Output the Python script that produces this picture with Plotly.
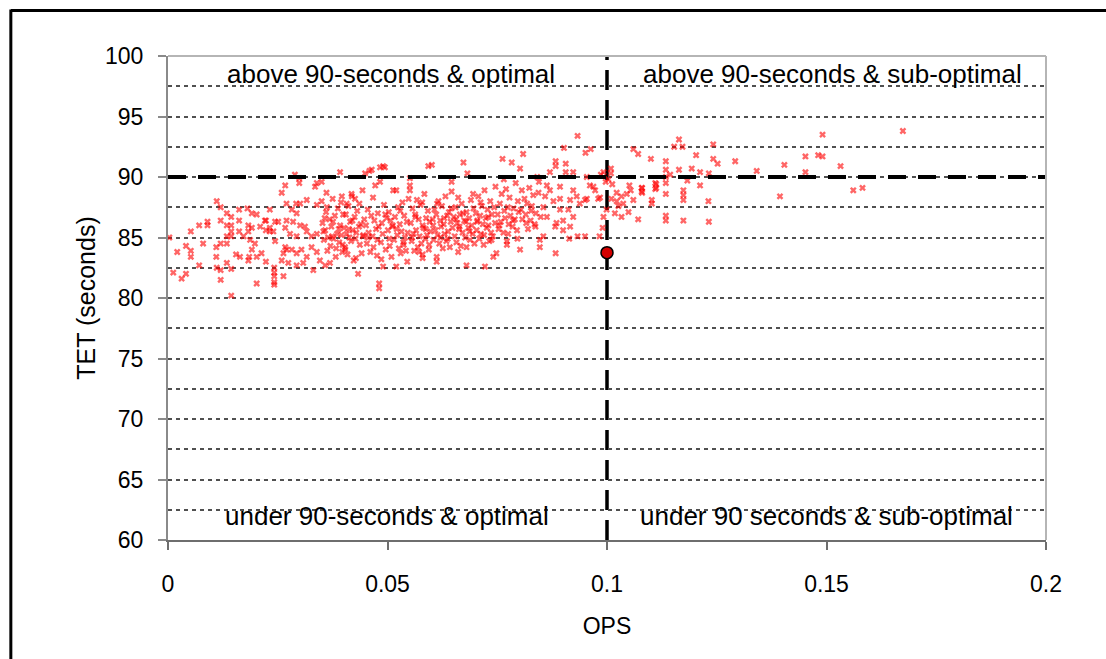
import plotly.graph_objects as go

# ---------------- data ----------------
ops = [
    # x < 0.025
    0.0003, 0.0012, 0.0031, 0.0041, 0.0021, 0.0041, 0.0052, 0.0052, 0.0052, 0.0071, 0.008, 0.0071,
    0.009, 0.009, 0.0111, 0.012, 0.012, 0.011, 0.011, 0.0111, 0.012, 0.012,
    0.0134, 0.0144, 0.0134, 0.0144, 0.0144, 0.0134, 0.0144, 0.0134, 0.012, 0.0162, 0.0162, 0.0162,
    0.0155, 0.0164, 0.0144, 0.0134, 0.0144, 0.0172, 0.0181, 0.0191, 0.0202, 0.0183, 0.0191, 0.0183,
    0.0187, 0.0198, 0.0191, 0.0185, 0.0183, 0.0202, 0.0213, 0.0223, 0.0202, 0.021, 0.0223, 0.0232,
    0.0223, 0.0232, 0.0221, 0.0232, 0.0244, 0.0251, 0.0242, 0.0242, 0.0242, 0.0242, 0.0263, 0.0242,
    0.024, 0.0244,
    # 0.025 - 0.035
    0.0259, 0.027, 0.0282, 0.0292, 0.0293, 0.027, 0.0285, 0.0301, 0.0312, 0.0267, 0.0278, 0.0293,
    0.0316, 0.0327, 0.0339, 0.0267, 0.027, 0.0263, 0.0282, 0.0293, 0.0304, 0.0316, 0.0327, 0.0339,
    0.0346, 0.0358, 0.0293, 0.0308, 0.0331, 0.0274, 0.0259, 0.0301, 0.0316, 0.0339, 0.035, 0.0362,
    0.0339, 0.035, 0.0335, 0.0392, 0.0396, 0.0407, 0.0418, 0.0426, 0.0289, 0.0299, 0.0299, 0.0267,
    # 0.035 - 0.040
    0.0352, 0.0355, 0.0358, 0.036, 0.0363, 0.0365, 0.0368, 0.037, 0.0372, 0.0375, 0.0377, 0.038,
    0.0382, 0.0385, 0.0387, 0.039, 0.0392, 0.0395, 0.0397, 0.0399, 0.0354, 0.0361, 0.0369, 0.0376,
    0.0383, 0.0389, 0.0394, 0.0398, 0.0357, 0.0374,
    # 0.040 - 0.045
    0.0401, 0.0403, 0.0405, 0.0407, 0.0409, 0.0411, 0.0413, 0.0415, 0.0417, 0.0419, 0.0421, 0.0423,
    0.0425, 0.0427, 0.0429, 0.0431, 0.0433, 0.0435, 0.0437, 0.0439, 0.0441, 0.0443, 0.0445, 0.0447,
    0.0449, 0.0404, 0.0412, 0.042, 0.0428, 0.0436, 0.0444,
    # 0.045 - 0.050
    0.0451, 0.0453, 0.0455, 0.0457, 0.0459, 0.0461, 0.0463, 0.0464, 0.0466, 0.0468, 0.047, 0.0472,
    0.0474, 0.0476, 0.0478, 0.048, 0.0481, 0.0481, 0.0483, 0.0483, 0.0485, 0.0487, 0.0489, 0.049,
    0.049, 0.0492, 0.0494, 0.0496, 0.0498, 0.0456, 0.0467, 0.0477, 0.0486, 0.0495,
    # 0.050 - 0.055
    0.0501, 0.0503, 0.0505, 0.0507, 0.0509, 0.0511, 0.0513, 0.0515, 0.0517, 0.052, 0.052, 0.0522,
    0.0524, 0.0526, 0.0528, 0.053, 0.0532, 0.0534, 0.0536, 0.0538, 0.054, 0.0542, 0.0544, 0.0546,
    0.0548, 0.0551, 0.0551, 0.0551, 0.0504, 0.0512, 0.0521, 0.0529, 0.0537, 0.0545,
    # 0.055 - 0.060
    0.0553, 0.0555, 0.0557, 0.0559, 0.0561, 0.0563, 0.0565, 0.0567, 0.0569, 0.0571, 0.0573, 0.0575,
    0.0577, 0.058, 0.058, 0.058, 0.0582, 0.0584, 0.0586, 0.0588, 0.059, 0.0592, 0.0593, 0.0594,
    0.0596, 0.0598, 0.0556, 0.0564, 0.0572, 0.0579, 0.0587, 0.0595,
    # 0.060 - 0.065
    0.0601, 0.0603, 0.0605, 0.0607, 0.0609, 0.0611, 0.0612, 0.0612, 0.0614, 0.0616, 0.0618, 0.062,
    0.0622, 0.0624, 0.0626, 0.0628, 0.063, 0.0632, 0.0634, 0.0636, 0.0638, 0.064, 0.0642, 0.0644,
    0.0646, 0.0646, 0.0648, 0.0604, 0.0613, 0.0621, 0.0629, 0.0637, 0.0645,
    # 0.065 - 0.070
    0.0651, 0.0653, 0.0655, 0.0657, 0.0659, 0.0661, 0.0661, 0.0663, 0.0665, 0.0667, 0.0669, 0.0671,
    0.0673, 0.0675, 0.0677, 0.068, 0.068, 0.068, 0.0682, 0.0684, 0.0686, 0.0688, 0.069, 0.0692,
    0.0694, 0.0696, 0.0698, 0.0656, 0.0664, 0.0672, 0.0679, 0.0687, 0.0695,
    # 0.070 - 0.075
    0.0701, 0.0703, 0.0705, 0.0707, 0.0709, 0.0711, 0.0713, 0.0715, 0.0717, 0.0719, 0.0721, 0.0722,
    0.0724, 0.0726, 0.0728, 0.073, 0.0732, 0.0734, 0.0736, 0.0738, 0.074, 0.0741, 0.0743, 0.0745,
    0.0748, 0.0704, 0.0712, 0.072, 0.0729, 0.0737, 0.0746,
    # 0.075 - 0.080
    0.0751, 0.0753, 0.0756, 0.0758, 0.076, 0.0762, 0.0764, 0.0766, 0.0768, 0.077, 0.0772, 0.0772,
    0.0774, 0.0776, 0.0778, 0.078, 0.0783, 0.0785, 0.0787, 0.079, 0.0792, 0.0795, 0.0797, 0.0799,
    0.0755, 0.0765, 0.0775, 0.0786, 0.0796,
    # 0.080 - 0.085
    0.0802, 0.0802, 0.0804, 0.0807, 0.0809, 0.0812, 0.0815, 0.0818, 0.082, 0.0823, 0.0826, 0.0829,
    0.0832, 0.0835, 0.0838, 0.0841, 0.0844, 0.0847, 0.0847, 0.0849, 0.0806, 0.0816, 0.0827, 0.0837,
    0.0845,
    # 0.085 - 0.100
    0.0933, 0.0902, 0.0951, 0.0963, 0.0883, 0.0883, 0.0906, 0.0906, 0.0923, 0.087, 0.0863, 0.0893,
    0.0954, 0.0992, 0.0986, 0.0961, 0.0973, 0.0954, 0.0984, 0.0999, 0.099, 0.0983, 0.095, 0.0933,
    0.0914, 0.0883, 0.087, 0.0878, 0.0893, 0.0912, 0.0923, 0.09, 0.0885, 0.0916, 0.09, 0.0882,
    0.0863, 0.0859, 0.0923, 0.0931, 0.0938, 0.095, 0.0916, 0.0893, 0.0969, 0.098, 0.0992, 0.0855,
    0.0855, 0.0997,
    # 0.100 - 0.110
    0.1009, 0.1009, 0.1022, 0.1033, 0.1045, 0.1054, 0.106, 0.1037, 0.101, 0.1022, 0.1026, 0.1049,
    0.1033, 0.1018, 0.1051, 0.1071, 0.1079, 0.1079, 0.1102, 0.1102, 0.106, 0.1071, 0.110, 0.108,
    0.108, 0.1003, 0.1012,
    # > 0.110
    0.1112, 0.1112, 0.111, 0.111, 0.1134, 0.1134, 0.1134, 0.1134, 0.1134, 0.1134, 0.1134, 0.1144,
    0.1153, 0.1172, 0.1164, 0.1164, 0.1174, 0.1174, 0.1174, 0.1174, 0.1193, 0.1203, 0.1212, 0.1212,
    0.1183, 0.1231, 0.1232, 0.1232, 0.1242, 0.1242, 0.1252, 0.1292, 0.1341, 0.1394, 0.1404, 0.1452,
    0.1452, 0.1481, 0.1491, 0.1491, 0.1532, 0.1561, 0.1582, 0.1674,
]

tet = [
    # x < 0.025
    85.0, 82.1, 81.6, 82.0, 83.8, 84.3, 83.9, 83.4, 85.5, 86.0, 84.5, 82.7,
    86.3, 86.0, 88.0, 87.5, 86.4, 84.2, 83.4, 82.5, 82.3, 81.5,
    87.0, 86.7, 86.0, 86.0, 85.5, 85.1, 85.1, 84.5, 84.5, 87.3, 86.4, 85.5,
    83.6, 83.4, 82.4, 82.9, 80.2, 85.1, 87.4, 87.0, 86.9, 86.0, 85.8, 85.5,
    84.8, 84.5, 84.0, 83.4, 83.1, 83.4, 83.7, 83.0, 81.2, 85.9, 85.6, 85.5,
    86.4, 85.8, 86.4, 87.3, 86.3, 86.3, 82.5, 82.1, 81.8, 81.3, 81.8, 81.1,
    85.5, 84.7,
    # 0.025 - 0.035
    88.7, 87.8, 87.3, 87.8, 87.0, 86.4, 86.3, 86.0, 85.9, 85.8, 85.3, 85.1,
    85.5, 85.1, 85.3, 84.2, 84.0, 83.7, 84.0, 83.7, 84.0, 83.4, 84.2, 83.8,
    83.1, 82.7, 82.7, 82.9, 82.3, 82.9, 83.1, 87.8, 88.1, 87.7, 88.0, 87.5,
    89.5, 89.6, 89.2, 90.4, 88.4, 87.8, 88.6, 88.2, 90.2, 89.9, 89.5, 89.3,
    # 0.035 - 0.040
    86.2, 84.8, 85.6, 87.1, 83.9, 85.0, 86.5, 84.3, 85.9, 88.2, 84.9, 86.8,
    83.4, 85.3, 87.4, 84.6, 86.0, 85.2, 83.8, 86.9, 85.5, 88.7, 82.9, 86.3,
    84.1, 85.7, 87.9, 84.4, 86.6, 85.1,
    # 0.040 - 0.045
    85.8, 84.2, 86.9, 85.3, 83.6, 87.6, 85.0, 86.3, 84.7, 88.4, 85.6, 83.1,
    86.7, 84.9, 85.4, 87.2, 82.0, 85.9, 84.4, 86.1, 83.7, 88.9, 85.2, 86.5,
    90.3, 84.0, 85.7, 86.4, 83.3, 87.8, 85.1,
    # 0.045 - 0.050
    86.0, 84.5, 87.3, 85.4, 90.5, 83.8, 86.8, 90.6, 85.1, 84.2, 86.4, 89.3,
    85.7, 83.5, 87.0, 85.9, 81.2, 80.8, 90.8, 89.6, 84.6, 86.2, 85.3, 90.9,
    82.6, 87.7, 90.8, 84.0, 86.6, 85.0, 88.3, 84.8, 83.2, 86.9,
    # 0.050 - 0.055
    85.6, 87.1, 84.3, 86.4, 83.4, 85.9, 88.9, 84.8, 86.7, 88.9, 82.6, 85.2,
    87.5, 84.1, 86.1, 83.7, 85.5, 87.9, 84.6, 86.8, 85.0, 83.9, 86.3, 85.4,
    88.2, 89.9, 89.3, 88.9, 84.9, 86.0, 85.7, 87.2, 84.4, 83.0,
    # 0.055 - 0.060
    86.2, 84.7, 87.4, 85.3, 83.9, 86.9, 85.6, 88.1, 84.2, 86.5, 85.1, 87.7,
    84.5, 83.6, 83.3, 86.0, 85.8, 88.6, 84.9, 86.6, 85.2, 87.2, 90.9, 84.0,
    86.3, 85.5, 85.0, 86.7, 83.8, 87.9, 85.7, 84.4,
    # 0.060 - 0.065
    91.0, 86.5, 84.8, 87.3, 85.6, 86.9, 83.0, 83.4, 85.2, 88.0, 84.5, 86.4,
    85.9, 87.6, 84.1, 86.1, 85.3, 88.4, 84.7, 86.8, 85.5, 87.1, 84.2, 86.3,
    89.6, 88.8, 85.8, 86.0, 87.8, 85.0, 86.6, 84.9, 87.4,
    # 0.065 - 0.070
    86.7, 85.1, 87.5, 84.6, 86.2, 83.8, 88.3, 85.7, 86.9, 84.3, 87.8, 85.4,
    91.2, 86.4, 85.0, 82.7, 84.2, 87.1, 90.3, 85.8, 86.6, 84.8, 88.1, 86.0,
    85.3, 87.4, 84.5, 86.5, 85.9, 87.0, 86.3, 85.5, 88.6,
    # 0.070 - 0.075
    87.0, 85.6, 86.4, 88.4, 84.9, 86.8, 85.3, 87.6, 86.1, 84.4, 88.9, 82.6,
    86.6, 85.8, 87.3, 86.0, 84.7, 88.0, 85.4, 86.9, 85.1, 83.4, 87.5, 86.2,
    83.7, 86.3, 87.9, 85.2, 86.7, 84.8, 89.2,
    # 0.075 - 0.080
    86.9, 85.7, 87.8, 86.3, 88.6, 91.5, 85.4, 87.2, 86.6, 89.0, 84.7, 84.4,
    87.5, 86.1, 88.3, 86.8, 91.2, 85.9, 87.4, 86.5, 89.5, 85.6, 88.0, 87.1,
    86.0, 89.8, 85.3, 86.4, 84.9,
    # 0.080 - 0.085
    90.7, 84.0, 87.3, 86.5, 91.9, 88.2, 86.9, 87.8, 85.7, 89.1, 86.4, 87.6,
    88.5, 86.1, 87.0, 90.0, 88.7, 84.8, 84.2, 86.7, 88.9, 86.2, 87.2, 85.9,
    89.6,
    # 0.085 - 0.100
    93.4, 92.4, 92.0, 92.3, 91.3, 90.9, 91.1, 90.4, 90.4, 90.4, 89.3, 89.2,
    90.0, 90.4, 90.2, 89.3, 88.9, 88.2, 88.3, 87.3, 85.8, 85.1, 85.1, 85.1,
    84.9, 83.7, 88.9, 88.0, 87.3, 87.3, 86.7, 86.4, 86.2, 85.9, 85.6, 85.9,
    86.7, 88.4, 88.9, 88.4, 87.8, 88.1, 88.1, 88.2, 89.2, 88.2, 86.7, 85.1,
    87.5, 89.6,
    # 0.100 - 0.110
    90.7, 90.3, 88.7, 88.4, 88.6, 88.9, 88.1, 87.8, 88.2, 88.0, 87.6, 87.1,
    86.7, 87.0, 89.3, 86.5, 89.1, 88.8, 88.1, 87.8, 92.3, 91.9, 91.5, 89.1,
    88.7, 89.8, 89.4,
    # > 0.110
    89.4, 89.1, 89.5, 89.0, 91.3, 90.6, 90.0, 89.5, 88.6, 86.8, 86.4, 90.2,
    92.5, 92.5, 93.1, 90.6, 88.9, 88.5, 88.1, 86.4, 90.7, 91.8, 90.4, 89.3,
    89.7, 88.0, 86.3, 90.3, 92.7, 91.5, 91.1, 91.3, 90.5, 88.4, 91.0, 91.7,
    90.4, 91.8, 91.7, 93.5, 90.9, 88.9, 89.1, 93.8,
]

current_ops = [0.1]
current_tet = [83.75]

ops_threshold = 0.1
tet_threshold = 90

x_range = [0, 0.2]
y_range = [60, 100]
x_ticks = [0, 0.05, 0.1, 0.15, 0.2]
x_tick_labels = ["0", "0.05", "0.1", "0.15", "0.2"]
y_ticks = [60, 65, 70, 75, 80, 85, 90, 95, 100]

quadrant_labels = [
    "above 90-seconds & optimal",
    "above 90-seconds & sub-optimal",
    "under 90-seconds & optimal",
    "under 90 seconds & sub-optimal",
]
quadrant_x = [0.0508, 0.1513, 0.0499, 0.150]
quadrant_y = [98.5, 98.5, 62.0, 62.0]

FONT = "Liberation Sans, Arial, sans-serif"

fig = go.Figure()

fig.add_trace(go.Scatter(
    x=ops, y=tet, mode="markers", name="simulations",
    marker=dict(symbol="x", size=6, color="rgba(255,0,0,0.6)", line=dict(width=0)),
    showlegend=False,
))

fig.add_trace(go.Scatter(
    x=current_ops, y=current_tet, mode="markers", name="current",
    marker=dict(symbol="circle", size=12, color="#d40000", line=dict(color="#000000", width=1.5)),
    showlegend=False,
))

# threshold lines
fig.add_shape(type="line", xref="x", yref="y",
              x0=x_range[0], x1=x_range[1], y0=tet_threshold, y1=tet_threshold,
              line=dict(color="black", width=4, dash="18px,12px"), layer="above")
fig.add_shape(type="line", xref="x", yref="y",
              x0=ops_threshold, x1=ops_threshold, y0=y_range[0], y1=y_range[1],
              line=dict(color="black", width=3.5, dash="20px,10px"), layer="below")

# plot border (top/right) lighter gray
fig.add_shape(type="line", xref="paper", yref="paper", x0=0, x1=1, y0=1, y1=1,
              line=dict(color="#b5b5b5", width=2))
fig.add_shape(type="line", xref="paper", yref="paper", x0=1, x1=1, y0=0, y1=1,
              line=dict(color="#b5b5b5", width=2))

# outer frame (left and top edges visible)
fig.add_shape(type="line", xref="paper", yref="paper", x0=-0.179, x1=1.08, y0=1.094, y1=1.094,
              line=dict(color="black", width=3))
fig.add_shape(type="line", xref="paper", yref="paper", x0=-0.179, x1=-0.179, y0=1.096, y1=-0.26,
              line=dict(color="black", width=3))

for txt, qx, qy in zip(quadrant_labels, quadrant_x, quadrant_y):
    fig.add_annotation(x=qx, y=qy, xref="x", yref="y", text=txt, showarrow=False,
                       font=dict(family=FONT, size=26, color="black"))

fig.update_layout(
    width=1106, height=659,
    margin=dict(l=168, r=60, t=56, b=119),
    paper_bgcolor="white", plot_bgcolor="white",
    font=dict(family=FONT, size=23, color="black"),
    showlegend=False,
)

fig.update_xaxes(
    range=x_range, tickvals=x_ticks, ticktext=x_tick_labels,
    showgrid=False, zeroline=False,
    showline=True, linecolor="#6e6e6e", linewidth=2,
    ticks="outside", ticklen=8, tickwidth=2, tickcolor="#6e6e6e",
    ticklabelstandoff=14,
    tickfont=dict(family=FONT, size=23),
    title=dict(text="OPS", font=dict(family=FONT, size=23), standoff=22),
)

fig.update_yaxes(
    range=y_range, tickvals=y_ticks,
    showgrid=True, gridcolor="#505050", gridwidth=1.5, griddash="4px,4px",
    minor=dict(dtick=2.5, showgrid=True, gridcolor="#505050", gridwidth=1.5, griddash="4px,4px", ticks=""),
    zeroline=False,
    showline=True, linecolor="#8a8a8a", linewidth=2,
    ticks="outside", ticklen=8, tickwidth=2, tickcolor="#8a8a8a",
    ticklabelstandoff=10,
    tickfont=dict(family=FONT, size=23),
    title=dict(text="TET (seconds)", font=dict(family=FONT, size=25), standoff=2),
)

fig.write_html("out.html")
